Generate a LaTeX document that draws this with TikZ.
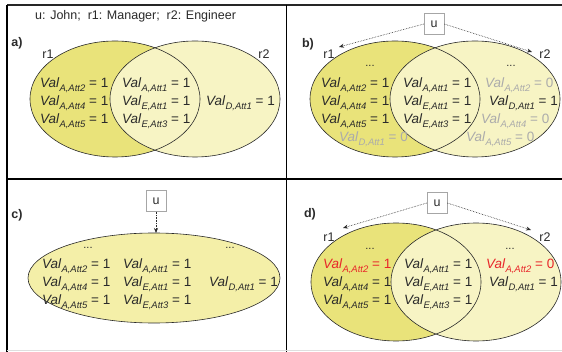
\documentclass[tikz,border=0pt]{standalone}
\usepackage{fontspec}
\setmainfont{Liberation Sans}
\usetikzlibrary{arrows.meta}
\definecolor{ydark}{HTML}{E9E37A}
\definecolor{ylight}{HTML}{F7F4C4}
\definecolor{ymid}{HTML}{F4EFA8}
\definecolor{tgray}{HTML}{ABABAB}
\definecolor{tred}{HTML}{E8262A}
\definecolor{txt}{HTML}{2A2A2A}
\newcommand\vv[3]{\textit{Val}\raisebox{-0.45ex}{\fontsize{9.5}{10}\selectfont\textit{#1,#2}} = #3}
\tikzset{
  val/.style={anchor=base west, inner sep=0pt, font=\fontsize{13.5}{15}\selectfont, text=txt},
  lbl/.style={inner sep=0pt, font=\fontsize{12.5}{14}\selectfont\bfseries, text=txt},
  rl/.style={inner sep=0pt, font=\fontsize{12.5}{14}\selectfont, text=txt},
  dots/.style={inner sep=0pt, font=\fontsize{11}{12}\selectfont, text=txt},
  ubox/.style={draw=gray!70, line width=0.5pt, minimum width=20pt, minimum height=21pt, inner sep=0pt, font=\fontsize{12.5}{14}\selectfont, text=txt},
  arr/.style={densely dotted, line width=0.6pt, draw=txt, -{Stealth[length=5pt,width=4pt]}},
  frame/.style={line width=1.5pt, draw=black},
  ell/.style={draw=txt, line width=0.6pt}
}
\begin{document}
\begin{tikzpicture}[x=1pt,y=-1pt]
\useasboundingbox (0,0) rectangle (562,352);
\fill[white] (0,0) rectangle (562,352);
% frame
\draw[frame, draw=black!85] (7,5) -- (562,5);
\draw[frame] (7,5) -- (7,352);
\draw[frame] (286.5,5) -- (286.5,352);
\draw[frame] (7,179) -- (562,179);
\draw[line width=0.8pt, draw=gray!25] (7,350.5) -- (562,350.5);

% header
\node[rl, anchor=west] (hdr) at (35,16) {u: John;\ \ r1: Manager;\ \ r2: Engineer};

% ---------- panel a ----------
\node[lbl] (la) at (17,43) {a)};
\fill[ydark] (115,99) ellipse [x radius=85, y radius=58];
\fill[ylight] (195,99) ellipse [x radius=85, y radius=58];
\draw[ell] (115,99) ellipse [x radius=85, y radius=58];
\draw[ell] (195,99) ellipse [x radius=85, y radius=58];
\node[rl] (ar1) at (48,54) {r1};
\node[rl] (ar2) at (264,54) {r2};
\node[val] (a1) at (40,88) {\vv{A}{Att2}{1}};
\node[val] (a2) at (40,106) {\vv{A}{Att4}{1}};
\node[val] (a3) at (40,124) {\vv{A}{Att5}{1}};
\node[val] (a4) at (122,88) {\vv{A}{Att1}{1}};
\node[val] (a5) at (122,106) {\vv{E}{Att1}{1}};
\node[val] (a6) at (122,124) {\vv{E}{Att3}{1}};
\node[val] (a7) at (206,106) {\vv{D}{Att1}{1}};

% ---------- panel b ----------
\node[lbl] (lb) at (308,44) {b)};
\fill[ydark] (395,99) ellipse [x radius=85, y radius=58];
\fill[ylight] (475,99) ellipse [x radius=85, y radius=58];
\draw[ell] (395,99) ellipse [x radius=85, y radius=58];
\draw[ell] (475,99) ellipse [x radius=85, y radius=58];
\node[rl] (br1) at (329,54) {r1};
\node[rl] (br2) at (545,54) {r2};
\node[ubox] (ub) at (434,24) {u};
\coordinate (ub1) at (339,47);
\coordinate (ub2) at (532,52);
\draw[arr] (ub.west) -- (ub1);
\draw[arr] (ub.east) -- (ub2);
\node[dots] (bd1) at (370,66) {...};
\node[dots] (bd2) at (511,66) {...};
\node[val] (b1) at (321,88) {\vv{A}{Att2}{1}};
\node[val] (b2) at (321,106) {\vv{A}{Att4}{1}};
\node[val] (b3) at (321,124) {\vv{A}{Att5}{1}};
\node[val, text=tgray] (b4) at (339,142) {\vv{D}{Att1}{0}};
\node[val] (b5) at (403,88) {\vv{A}{Att1}{1}};
\node[val] (b6) at (403,106) {\vv{E}{Att1}{1}};
\node[val] (b7) at (403,124) {\vv{E}{Att3}{1}};
\node[val, text=tgray] (b8) at (485,88) {\vv{A}{Att2}{0}};
\node[val] (b9) at (489,106) {\vv{D}{Att1}{1}};
\node[val, text=tgray] (b10) at (481,124) {\vv{A}{Att4}{0}};
\node[val, text=tgray] (b11) at (466,142) {\vv{A}{Att5}{0}};

% ---------- panel c ----------
\node[lbl] (lc) at (17,215) {c)};
\fill[ymid] (154,278) ellipse [x radius=126, y radius=45];
\draw[ell] (154,278) ellipse [x radius=126, y radius=45];
\node[ubox] (uc) at (156,201) {u};
\coordinate (uc1) at (156,233);
\draw[arr] (uc.south) -- (uc1);
\node[dots] (cd1) at (88,248) {...};
\node[dots] (cd2) at (230,248) {...};
\node[val] (c1) at (42,269) {\vv{A}{Att2}{1}};
\node[val] (c2) at (42,287) {\vv{A}{Att4}{1}};
\node[val] (c3) at (42,305) {\vv{A}{Att5}{1}};
\node[val] (c4) at (123,269) {\vv{A}{Att1}{1}};
\node[val] (c5) at (123,287) {\vv{E}{Att1}{1}};
\node[val] (c6) at (123,305) {\vv{E}{Att3}{1}};
\node[val] (c7) at (209,287) {\vv{D}{Att1}{1}};

% ---------- panel d ----------
\node[lbl] (ld) at (310,214) {d)};
\fill[ydark] (396,282) ellipse [x radius=85, y radius=59];
\fill[ylight] (476,282) ellipse [x radius=85, y radius=59];
\draw[ell] (396,282) ellipse [x radius=85, y radius=59];
\draw[ell] (476,282) ellipse [x radius=85, y radius=59];
\node[rl] (dr1) at (329,237) {r1};
\node[rl] (dr2) at (545,237) {r2};
\node[ubox] (ud) at (437,203) {u};
\coordinate (ud1) at (343,228);
\coordinate (ud2) at (531,230);
\draw[arr] (ud.west) -- (ud1);
\draw[arr] (ud.east) -- (ud2);
\node[dots] (dd1) at (370,249) {...};
\node[dots] (dd2) at (510,249) {...};
\node[val, text=tred] (d1) at (323,269) {\vv{A}{Att2}{1}};
\node[val] (d2) at (323,287) {\vv{A}{Att4}{1}};
\node[val] (d3) at (323,305) {\vv{A}{Att5}{1}};
\node[val] (d4) at (404,269) {\vv{A}{Att1}{1}};
\node[val] (d5) at (404,287) {\vv{E}{Att1}{1}};
\node[val] (d6) at (404,305) {\vv{E}{Att3}{1}};
\node[val, text=tred] (d7) at (486,269) {\vv{A}{Att2}{0}};
\node[val] (d8) at (489,287) {\vv{D}{Att1}{1}};
\end{tikzpicture}
\end{document}
